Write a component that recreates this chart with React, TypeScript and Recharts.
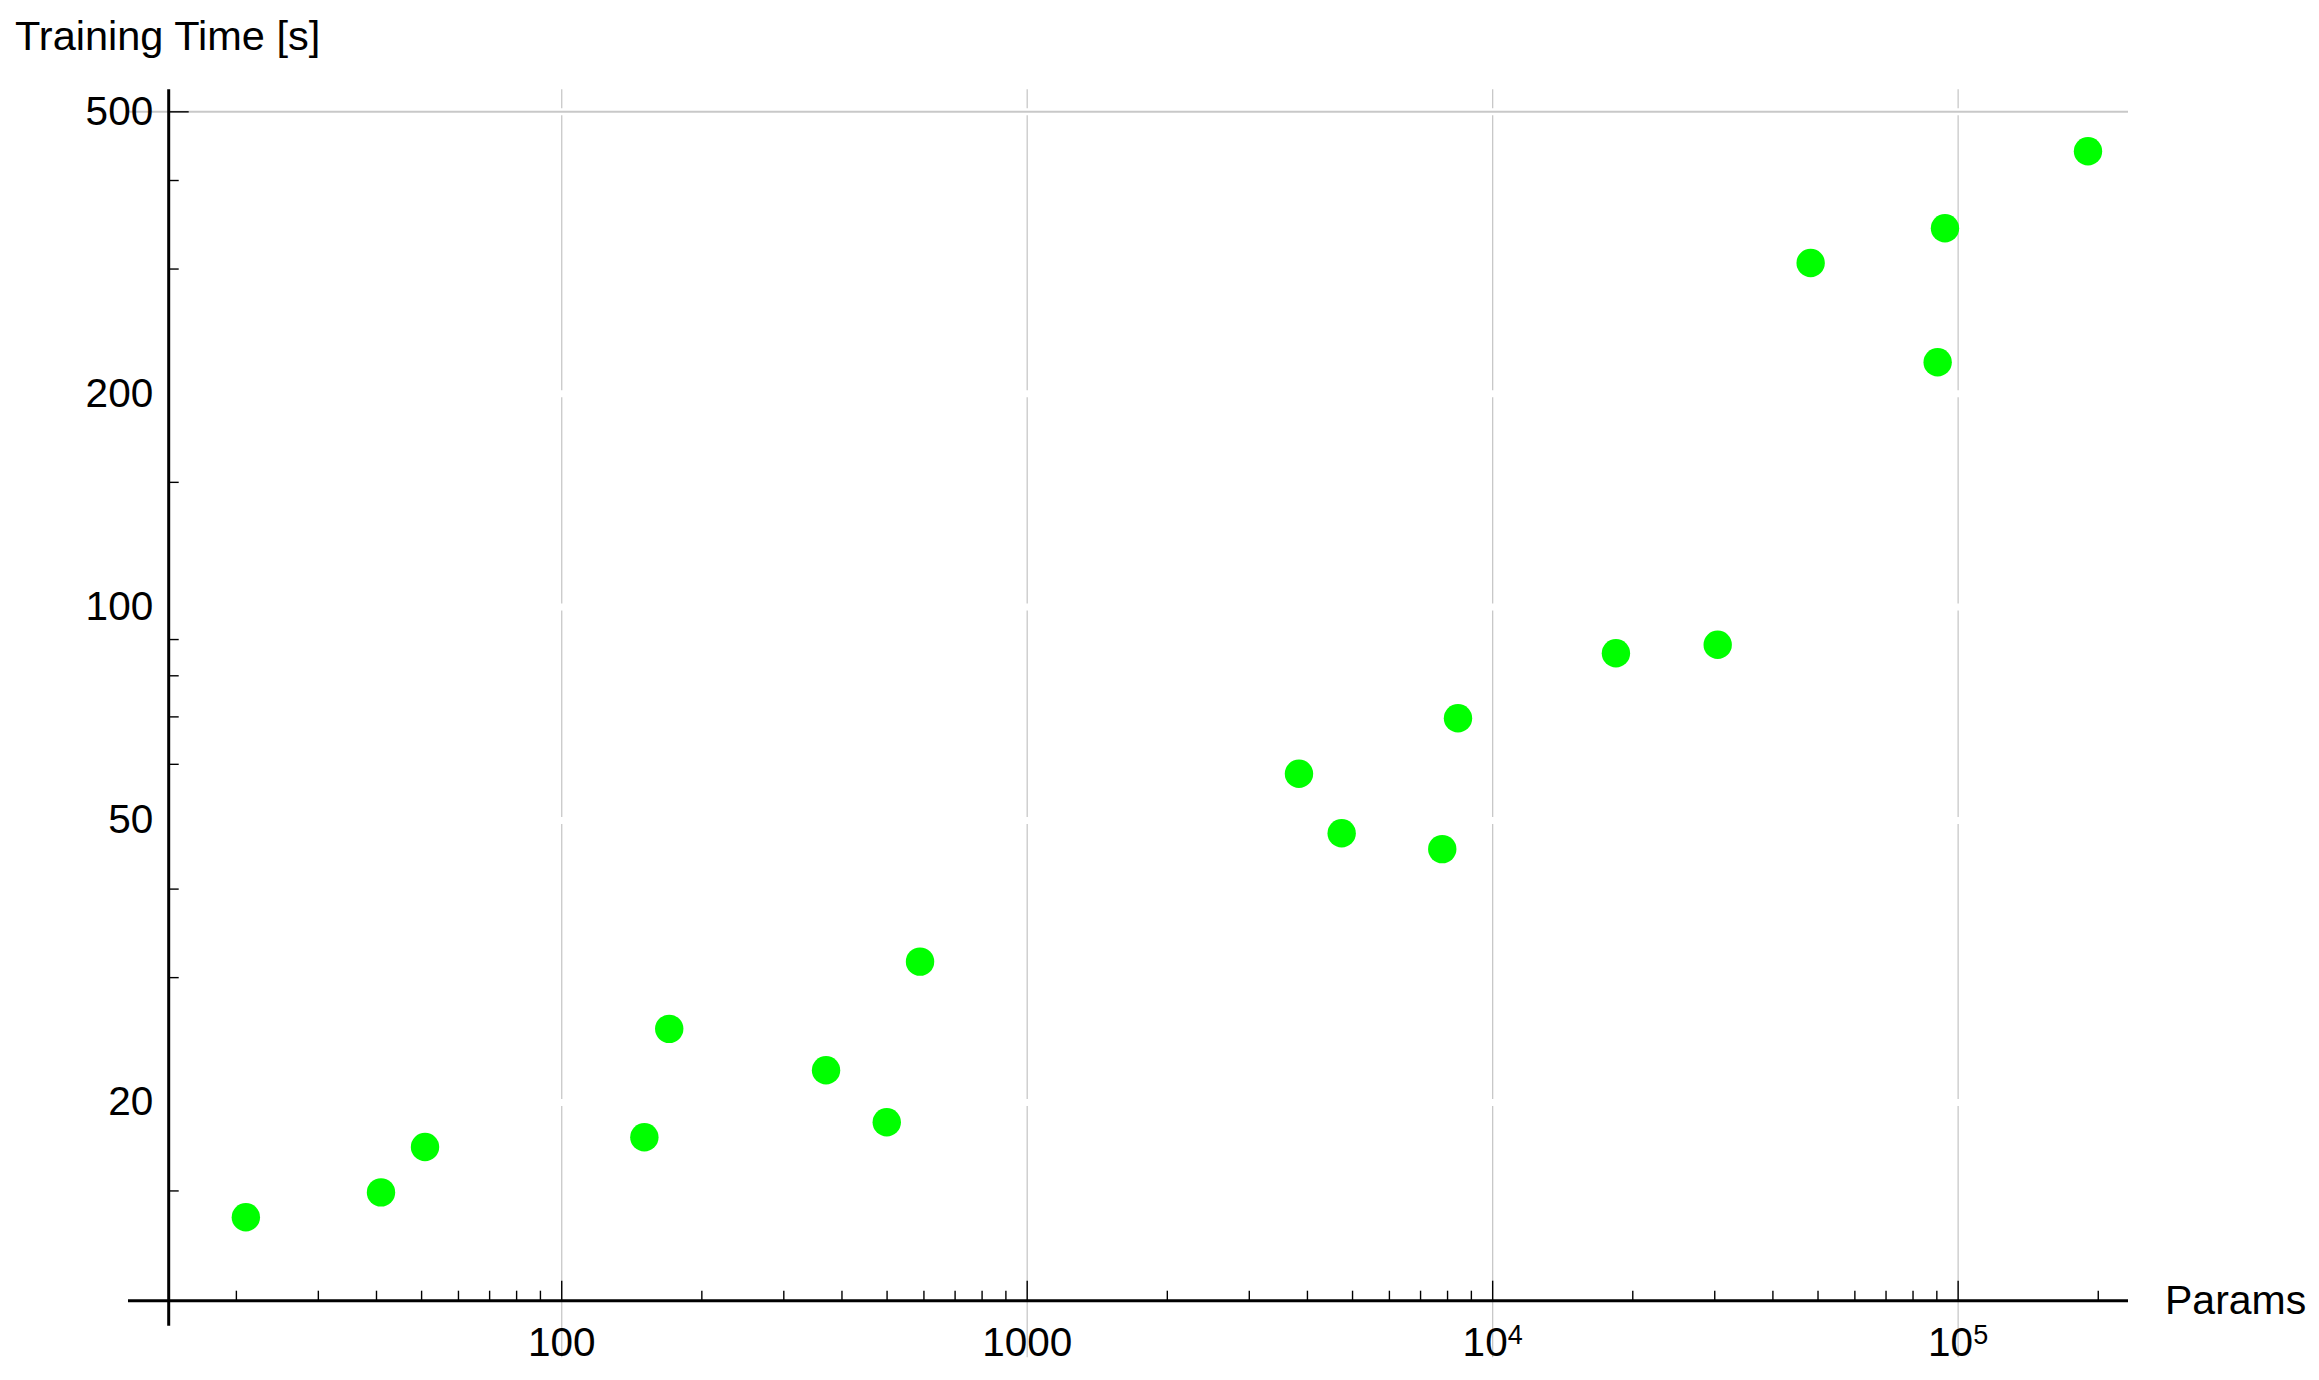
import React from 'react';
import { ScatterChart, Scatter, XAxis, YAxis, ReferenceLine } from 'recharts';

// ---- data ----
const params = [20.96, 40.9, 50.85, 150.5, 170.2, 369.7, 499.2, 588.5, 3836, 4738, 7793, 8424, 18400, 30440, 48210, 90360, 93700, 190100];
const times = [13.77, 14.93, 17.3, 17.86, 25.4, 22.2, 18.75, 31.6, 58.2, 47.95, 45.55, 69.7, 86.1, 88.5, 306, 221.6, 342.6, 440];

// ---- ticks ----
const xMajorTicks = [100, 1000, 10000, 100000];
const xMajorLabels = [
  { base: '100', exp: '' },
  { base: '1000', exp: '' },
  { base: '10', exp: '4' },
  { base: '10', exp: '5' },
];
const xMinorTicks = [20, 30, 40, 50, 60, 70, 80, 90, 200, 300, 400, 500, 600, 700, 800, 900, 2000, 3000, 4000, 5000, 6000, 7000, 8000, 9000, 20000, 30000, 40000, 50000, 60000, 70000, 80000, 90000, 200000];
const yMajorTicks = [20, 50, 100, 200, 500];
const yMajorTickMarksShown = [500];
const yMinorTicks = [15, 30, 40, 60, 70, 80, 90, 150, 300, 400];

const xAxisTitle = 'Params';
const yAxisTitle = 'Training Time [s]';

// ---- ranges ----
const xDomain = [14.31, 231700];
const yDomain = [10.5, 538];
const xPaddedStart = 11.7;
const yPaddedStart = 9.68;
const yGridBottom = 8.74;
const whiteBandStart = 16;

const data = params.map((p, i) => ({ params: p, time: times[i] }));

const FONT = '"Liberation Sans", Arial, sans-serif';
const GRID = '#c8c8c8';

const XTick = (props: any) => {
  const { x, y, payload } = props;
  const v = payload.value;
  const idx = xMajorTicks.indexOf(v);
  const major = idx >= 0;
  return (
    <g>
      <line x1={x} x2={x} y1={y} y2={y - (major ? 20 : 10)} stroke="#000" strokeWidth={1.4} />
      {major && (
        <text x={x} y={y + 55} textAnchor="middle" fontFamily={FONT} fontSize={40.5} fill="#000">
          <tspan>{xMajorLabels[idx].base}</tspan>
          {xMajorLabels[idx].exp && (
            <tspan dy={-12} fontSize={27}>{xMajorLabels[idx].exp}</tspan>
          )}
        </text>
      )}
    </g>
  );
};

const YTick = (props: any) => {
  const { x, y, payload } = props;
  const v = payload.value;
  const major = yMajorTicks.includes(v);
  const showMark = !major || yMajorTickMarksShown.includes(v);
  return (
    <g>
      {showMark && (
        <line x1={x} x2={x + (major ? 20 : 10)} y1={y} y2={y} stroke="#000" strokeWidth={1.4} />
      )}
      {major && (
        <text x={x - 15.5} y={y + 13} textAnchor="end" fontFamily={FONT} fontSize={40.5} fill="#000">
          {v}
        </text>
      )}
    </g>
  );
};

export default function App() {
  return (
    <div style={{ position: 'relative', width: 2300, height: 1360, background: '#fff' }}>
      <ScatterChart
        width={2300}
        height={1360}
        margin={{ top: 81.3, right: 180, bottom: 37.3, left: 100.7 }}
      >
        <XAxis
          dataKey="params"
          type="number"
          scale="log"
          domain={xDomain}
          allowDataOverflow
          ticks={[...xMajorTicks, ...xMinorTicks]}
          interval={0}
          height={30}
          axisLine={false}
          tickLine={false}
          tickSize={0}
          tickMargin={0}
          tick={<XTick />}
        />
        <YAxis
          dataKey="time"
          type="number"
          scale="log"
          domain={yDomain}
          allowDataOverflow
          ticks={[...yMajorTicks, ...yMinorTicks]}
          interval={0}
          width={60}
          axisLine={false}
          tickLine={false}
          tickSize={0}
          tickMargin={0}
          tick={<YTick />}
        />
        {xMajorTicks.map((v) => (
          <ReferenceLine
            key={'vg' + v}
            segment={[{ x: v, y: yGridBottom }, { x: v, y: yDomain[1] }]}
            stroke={GRID}
            strokeWidth={1.3}
            ifOverflow="visible"
          />
        ))}
        {yMajorTicks.map((v) => (
          <ReferenceLine
            key={'wb' + v}
            segment={[{ x: whiteBandStart, y: v }, { x: xDomain[1], y: v }]}
            stroke="#ffffff"
            strokeWidth={7}
            ifOverflow="visible"
          />
        ))}
        <ReferenceLine
          segment={[{ x: xPaddedStart, y: 500 }, { x: xDomain[1], y: 500 }]}
          stroke={GRID}
          strokeWidth={2}
          ifOverflow="visible"
        />
        <ReferenceLine
          segment={[{ x: xPaddedStart, y: yDomain[0] }, { x: xDomain[1], y: yDomain[0] }]}
          stroke="#000"
          strokeWidth={3}
          ifOverflow="visible"
        />
        <ReferenceLine
          segment={[{ x: xDomain[0], y: yPaddedStart }, { x: xDomain[0], y: yDomain[1] }]}
          stroke="#000"
          strokeWidth={3}
          ifOverflow="visible"
        />
        <Scatter
          data={data}
          isAnimationActive={false}
          shape={(p: any) => <circle cx={p.cx} cy={p.cy} r={14.2} fill="#00ff00" />}
        />
      </ScatterChart>
      <div
        style={{
          position: 'absolute',
          left: 7,
          top: 7,
          fontFamily: FONT,
          fontSize: 41.5,
          lineHeight: '42px',
          whiteSpace: 'nowrap',
          color: '#000',
        }}
      >
        {yAxisTitle}
      </div>
      <div
        style={{
          position: 'absolute',
          left: 2157,
          top: 1271,
          fontFamily: FONT,
          fontSize: 41,
          lineHeight: '42px',
          whiteSpace: 'nowrap',
          color: '#000',
        }}
      >
        {xAxisTitle}
      </div>
    </div>
  );
}
